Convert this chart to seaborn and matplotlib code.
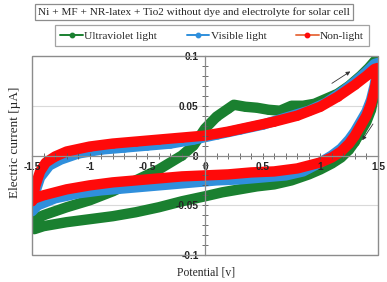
import matplotlib
matplotlib.use("Agg")
import matplotlib.pyplot as plt
import seaborn as sns
from matplotlib.lines import Line2D
from matplotlib.patches import Rectangle
from matplotlib.ticker import MultipleLocator, FuncFormatter

# Cyclic voltammetry loops (forward scan, then reverse)
uv_v = [-1.5, -1.46, -1.4, -1.3, -1.2, -1.0, -0.8, -0.6, -0.4, -0.2, -0.1, 0.0, 0.1, 0.2,
        0.25, 0.35, 0.45, 0.55, 0.65, 0.75, 0.85, 0.95, 1.05, 1.15, 1.25, 1.35, 1.42, 1.48, 1.5,
        1.49, 1.47, 1.44, 1.4, 1.35, 1.3, 1.25, 1.18, 1.1, 1.0, 0.9, 0.75, 0.6, 0.45, 0.3, 0.15,
        0.0, -0.2, -0.4, -0.6, -0.8, -1.0, -1.2, -1.4, -1.48, -1.5]
uv_i = [-0.068, -0.063, -0.060, -0.056, -0.052, -0.045, -0.036, -0.025, -0.014, 0.000, 0.010,
        0.027, 0.039, 0.047, 0.051, 0.049, 0.048, 0.046, 0.045, 0.050, 0.050, 0.052, 0.057,
        0.062, 0.070, 0.080, 0.088, 0.096, 0.098,
        0.080, 0.062, 0.046, 0.034, 0.024, 0.014, 0.006, -0.002, -0.008, -0.014, -0.019,
        -0.025, -0.029, -0.031, -0.034, -0.037, -0.041, -0.046, -0.052, -0.057, -0.061,
        -0.064, -0.067, -0.071, -0.074, -0.072]

vis_v = [-1.5, -1.47, -1.43, -1.35, -1.25, -1.1, -0.9, -0.7, -0.5, -0.3, -0.1, 0.1, 0.3, 0.5,
         0.7, 0.9, 1.05, 1.2, 1.3, 1.4, 1.47, 1.5,
         1.49, 1.47, 1.44, 1.4, 1.35, 1.3, 1.25, 1.18, 1.1, 1.0, 0.85, 0.7, 0.5, 0.3, 0.1, -0.1,
         -0.3, -0.5, -0.7, -0.9, -1.1, -1.3, -1.45, -1.5]
vis_i = [-0.054, -0.036, -0.022, -0.010, -0.004, 0.002, 0.006, 0.008, 0.010, 0.012, 0.016,
         0.021, 0.026, 0.031, 0.038, 0.045, 0.053, 0.065, 0.074, 0.084, 0.092, 0.093,
         0.083, 0.070, 0.056, 0.044, 0.034, 0.024, 0.016, 0.007, 0.000, -0.007, -0.016,
         -0.020, -0.022, -0.024, -0.025, -0.027, -0.029, -0.031, -0.033, -0.035, -0.038,
         -0.043, -0.050, -0.056]

dark_v = [-1.5, -1.47, -1.43, -1.38, -1.3, -1.2, -1.0, -0.8, -0.6, -0.4, -0.2, 0.0, 0.2, 0.4,
          0.6, 0.8, 1.0, 1.15, 1.3, 1.4, 1.47, 1.5,
          1.49, 1.47, 1.44, 1.4, 1.35, 1.3, 1.25, 1.18, 1.1, 1.0, 0.9, 0.8, 0.6, 0.4, 0.2, 0.0,
          -0.2, -0.5, -0.8, -1.0, -1.2, -1.4, -1.5]
dark_i = [-0.046, -0.030, -0.016, -0.007, -0.001, 0.004, 0.009, 0.012, 0.014, 0.016, 0.018,
          0.020, 0.024, 0.029, 0.034, 0.040, 0.049, 0.059, 0.071, 0.080, 0.087, 0.088,
          0.078, 0.066, 0.052, 0.040, 0.030, 0.020, 0.012, 0.004, -0.002, -0.007, -0.010,
          -0.013, -0.016, -0.017, -0.019, -0.020, -0.021, -0.024, -0.027, -0.030, -0.034,
          -0.040, -0.044]

series_names = ["Ultraviolet light", "Visible light", "Non-light"]
series_colors = ["#1a8030", "#2f8fdc", "#ff0a0a"]
legend_line_colors = ["#1a8030", "#2f8fdc", "#e8744a"]

sns.set_style("white")
plt.rcParams["font.family"] = ["Liberation Serif", "DejaVu Serif"]

fig = plt.figure(figsize=(3.87, 2.82), dpi=100)
ax = fig.add_axes([0.0827, 0.0957, 0.894, 0.7057])

frame_col = "#8c8c8c"

# gridlines at +-0.05 behind the data
for g in (0.05, -0.05):
    ax.axhline(g, color="#d9d9d9", lw=0.8, zorder=0)

for v, i, col in zip([uv_v, vis_v, dark_v], [uv_i, vis_i, dark_i], series_colors):
    sns.lineplot(x=v, y=i, sort=False, estimator=None, color=col, linewidth=7.5,
                 marker="o", markersize=6, markeredgewidth=0, legend=False, ax=ax,
                 solid_joinstyle="round", solid_capstyle="round")

ax.set_xlim(-1.5, 1.5)
ax.set_ylim(-0.1, 0.1)

# axes crossing at the origin
ax.spines["left"].set_position(("data", 0))
ax.spines["bottom"].set_position(("data", 0))
ax.spines["top"].set_visible(False)
ax.spines["right"].set_visible(False)
for s in ("left", "bottom"):
    ax.spines[s].set_color(frame_col)
    ax.spines[s].set_linewidth(0.9)
    ax.spines[s].set_zorder(3)
ax.add_patch(Rectangle((0, 0), 1, 1, transform=ax.transAxes, fill=False,
                       edgecolor=frame_col, lw=1.0, clip_on=False, zorder=4))

ax.xaxis.set_major_locator(MultipleLocator(0.5))
ax.xaxis.set_minor_locator(MultipleLocator(0.1))
ax.yaxis.set_major_locator(MultipleLocator(0.05))
ax.yaxis.set_minor_locator(MultipleLocator(0.01))
fmt = FuncFormatter(lambda val, pos: "0" if abs(val) < 1e-9 else "%g" % round(val, 3))
ax.xaxis.set_major_formatter(fmt)
ax.yaxis.set_major_formatter(fmt)
ax.tick_params(which="both", direction="inout", color="#555555", width=0.6,
               bottom=True, left=True)
ax.tick_params(which="major", length=5, pad=2)
ax.tick_params(which="minor", length=5)
for lab in ax.get_xticklabels() + ax.get_yticklabels():
    lab.set_fontfamily("Liberation Sans")
    lab.set_fontweight("bold")
    lab.set_fontsize(7.3)
ax.set_axisbelow(False)

# scan direction arrows
arrow_style = dict(arrowstyle="-|>", color="#333333", lw=0.6, mutation_scale=6)
ax.annotate("", xy=(1.28, 0.086), xytext=(1.08, 0.071), arrowprops=arrow_style, zorder=6)
ax.annotate("", xy=(1.35, 0.013), xytext=(1.47, 0.034), arrowprops=arrow_style, zorder=6)

fig.text(0.039, 0.496, "Electric current [\u00b5A]", rotation=90, ha="center",
         va="center", fontsize=9.5)
fig.text(0.532, 0.032, "Potential [v]", ha="center", va="center", fontsize=8.4)

fig.text(0.501, 0.957, "Ni + MF + NR-latex + Tio2 without dye and electrolyte for solar cell",
         ha="center", va="center", fontsize=8.1,
         bbox=dict(boxstyle="square,pad=0.3", facecolor="white", edgecolor=frame_col, lw=0.9))

handles = [Line2D([0], [0], color=lc, lw=1.4, marker="o", markersize=3.2,
                  markerfacecolor=mc, markeredgecolor=mc)
           for lc, mc in zip(legend_line_colors, series_colors)]
leg = fig.legend(handles, series_names, loc="center", bbox_to_anchor=(0.548, 0.874),
                 ncol=3, fontsize=8.2, frameon=True, fancybox=False, handlelength=2.0,
                 handletextpad=0.1, columnspacing=2.6, borderpad=0.45)
leg.get_frame().set_edgecolor(frame_col)
leg.get_frame().set_linewidth(0.9)

fig.savefig("out.png", dpi=100)
